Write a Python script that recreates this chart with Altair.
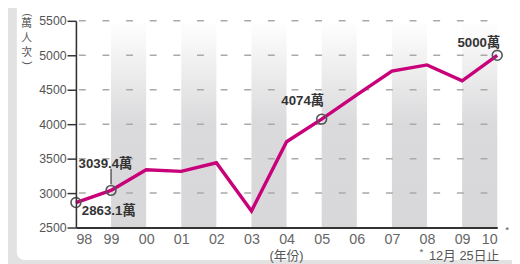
import altair as alt
import pandas as pd

# ---- data ----
years = ["98", "99", "00", "01", "02", "03", "04", "05", "06", "07", "08", "09", "10"]
visitors = [2863.1, 3039.4, 3340, 3315, 3440, 2740, 3745, 4074, 4425, 4770, 4860, 4630, 5000]

marked_years = ["98", "99", "05", "10"]
label_texts = ["2863.1萬", "3039.4萬", "4074萬", "5000萬"]

band_starts = ["99", "01", "03", "05", "07", "09"]
band_ends = ["00", "02", "04", "06", "08", "10"]

y_ticks = [2500, 3000, 3500, 4000, 4500, 5000, 5500]
grid_values = [3000, 3500, 4000, 4500, 5000, 5500]

leader_from = [3130]
leader_to = [3355]

pos = {y: i for i, y in enumerate(years)}
df = pd.DataFrame({"i": [pos[y] for y in years], "year": years, "v": visitors})
mk = pd.DataFrame({
    "i": [pos[y] for y in marked_years],
    "v": [visitors[pos[y]] for y in marked_years],
    "t": label_texts,
})
band_rows = []
for k, (s, e) in enumerate(zip(band_starts, band_ends)):
    for p in (s, e):
        band_rows.append({"band": k, "i": pos[p], "top": 5500, "bot": 2500})
bands = pd.DataFrame(band_rows)
grid = pd.DataFrame({"g": grid_values, "x0": [0] * len(grid_values), "x1": [len(years) - 1] * len(grid_values)})
leader = pd.DataFrame({"i": [pos["99"]], "v0": leader_from, "v1": leader_to})

W, H = 428, 210
FONT = "Liberation Sans, Noto Sans CJK TC"
CJK = "Noto Sans CJK TC"

xs = alt.Scale(domain=[0, len(years) - 1], nice=False, zero=False)
ys = alt.Scale(domain=[2500, 5500], nice=False, zero=False)

label_expr = "[" + ",".join(f"'{y}'" for y in years) + "][datum.value]"

x_axis = alt.Axis(
    values=list(range(len(years))), labelExpr=label_expr, ticks=False, title=None,
    grid=False, domainColor="#333333", domainWidth=2.2, labelFontSize=14.5,
    labelColor="#666666", labelPadding=5, labelFont=FONT, zindex=1,
)
y_axis = alt.Axis(
    values=y_ticks, format="d", grid=False, domainColor="#333333", domainWidth=1.6, title=None,
    tickColor="#333333", tickSize=9, tickWidth=1.5, labelPadding=1,
    labelFontSize=12.5, labelColor="#555555", labelFont=FONT, zindex=1,
)


def X(f):
    return alt.X(f, scale=xs, axis=x_axis, title=None)


def Y(f):
    return alt.Y(f, scale=ys, axis=y_axis, title=None)


panel = alt.Chart(pd.DataFrame({"k": [0]})).mark_rect(
    fill="white", cornerRadius=8
).encode(x=alt.value(-60), x2=alt.value(460), y=alt.value(-40), y2=alt.value(243))

band_layer = alt.Chart(bands).mark_area(
    color=alt.Gradient(
        gradient="linear",
        stops=[
            alt.GradientStop(color="#ffffff", offset=0),
            alt.GradientStop(color="#dadadc", offset=0.5),
            alt.GradientStop(color="#d8d8da", offset=1),
        ],
        x1=1, y1=0, x2=1, y2=1,
    ),
    opacity=1,
).encode(x=X("i:Q"), y=Y("top:Q"), y2="bot:Q", detail="band:N")

grid_layer = alt.Chart(grid).mark_rule(
    color="#a9a9a9", strokeWidth=1.5, strokeDash=[7, 17], strokeDashOffset=21
).encode(x=X("x0:Q"), x2="x1:Q", y=Y("g:Q"))

line = alt.Chart(df).mark_line(color="#c8007a", strokeWidth=3.5, strokeJoin="miter").encode(
    x=X("i:Q"), y=Y("v:Q")
)

leader_layer = alt.Chart(leader).mark_rule(color="#444444", strokeWidth=1.3).encode(
    x=X("i:Q"), y=Y("v0:Q"), y2="v1:Q"
)

circles = alt.Chart(mk).mark_point(
    shape="circle", size=100, filled=False, stroke="#555555", strokeWidth=1.6, opacity=1
).encode(x=X("i:Q"), y=Y("v:Q"))

offsets = {"98": (6, 9, "left"), "99": (-33, -27, "left"), "05": (-41, -18, "left"), "10": (3, -12, "right")}
label_layers = []
for yv, t in zip(marked_years, label_texts):
    dx, dy, al = offsets[yv]
    label_layers.append(
        alt.Chart(mk[mk.t == t]).mark_text(
            dx=dx, dy=dy, align=al, baseline="middle", fontSize=13.5,
            fontWeight="bold", color="#333333", font=FONT,
        ).encode(x=X("i:Q"), y=Y("v:Q"), text="t:N")
    )

note_df = pd.DataFrame({"k": [0]})
chars = ["萬", "人", "次"]
char_y = [3, 18, 33]
ytitle = [
    alt.Chart(note_df).mark_text(
        text=c, baseline="middle", align="center", fontSize=11, color="#555555", font=CJK,
    ).encode(x=alt.value(-50), y=alt.value(yy))
    for c, yy in zip(chars, char_y)
]
paren_top = alt.Chart(note_df).mark_text(
    text="(", angle=90, fontSize=11, color="#555555", font=FONT, baseline="middle", align="center"
).encode(x=alt.value(-50), y=alt.value(-6))
paren_bot = alt.Chart(note_df).mark_text(
    text=")", angle=90, fontSize=11, color="#555555", font=FONT, baseline="middle", align="center"
).encode(x=alt.value(-50), y=alt.value(43))

x04 = pos["04"] / (len(years) - 1) * W
x10 = W
xtitle = alt.Chart(note_df).mark_text(
    text="(年份)", fontSize=13, color="#555555", font=FONT, baseline="middle"
).encode(x=alt.value(x04), y=alt.value(H + 29))
footnote = alt.Chart(note_df).mark_text(
    text="12月 25日止", fontSize=13, color="#555555", font=FONT, baseline="middle", align="right",
).encode(x=alt.value(x10 + 2), y=alt.value(H + 29))
foot_star = alt.Chart(note_df).mark_text(
    text="*", fontSize=10, color="#555555", font=FONT, baseline="middle", align="center",
).encode(x=alt.value(x10 - 77), y=alt.value(H + 25))
ten_star = alt.Chart(note_df).mark_text(
    text="*", fontSize=10, color="#555555", font=FONT, baseline="middle", align="center",
).encode(x=alt.value(x10 + 10), y=alt.value(H + 3))

chart = alt.layer(
    panel, band_layer, grid_layer, line, leader_layer, circles, *label_layers,
    *ytitle, paren_top, paren_bot, xtitle, footnote, foot_star, ten_star,
).properties(
    width=W, height=H,
    autosize=alt.AutoSizeParams(type="none"),
    padding={"left": 69, "top": 11, "right": 15, "bottom": 35},
    background="#e2e2e2",
).configure_view(stroke=None)

chart.save("out.html", embed_options={"renderer": "svg", "actions": False})
